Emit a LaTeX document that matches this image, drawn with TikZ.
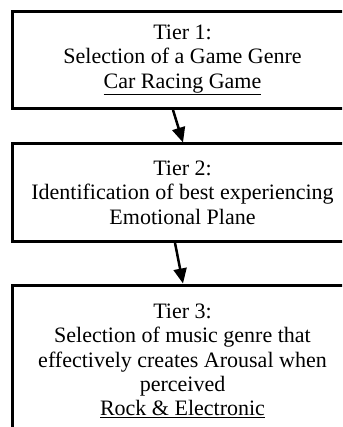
\documentclass[tikz,border=0pt]{standalone}
\usepackage{fontspec}
\setmainfont{Liberation Serif}
\usetikzlibrary{arrows.meta}
\begin{document}
\begin{tikzpicture}[x=1pt,y=-1pt,
  tier/.style={draw=black, line width=3pt, minimum width=340pt,
    align=center, inner sep=0pt,
    font=\fontsize{22}{24.4}\selectfont},
  flow/.style={line width=2.5pt, -{Triangle[length=15pt,width=13pt]}}]
  \useasboundingbox (0,0) rectangle (342,427);
  \clip (0,0) rectangle (342,427);
  \node[tier, minimum height=97pt] (t1) at (182.5,60)
    {Tier 1:\\Selection of a Game Genre\\\underline{Car Racing Game}};
  \node[tier, minimum height=97.5pt] (t2) at (182.5,192.75)
    {Tier 2:\\Identification of best experiencing\\Emotional Plane};
  \node[tier, minimum height=152pt] (t3) at (182.5,361)
    {Tier 3:\\Selection of music genre that\\effectively creates Arousal when\\perceived\\\underline{Rock \& Electronic}};
  \draw[flow] ([xshift=-9.5pt]t1.south) -- ([xshift=0.5pt]t2.north);
  \draw[flow] ([xshift=-7.5pt]t2.south) -- ([xshift=0.5pt]t3.north);
\end{tikzpicture}
\end{document}
